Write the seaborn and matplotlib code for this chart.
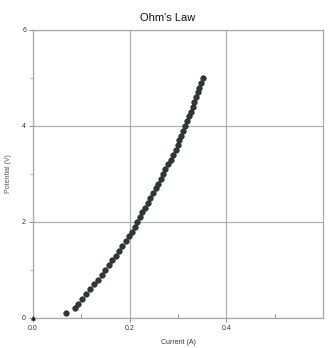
import matplotlib
matplotlib.use("Agg")
import matplotlib.pyplot as plt
from matplotlib.ticker import MultipleLocator
import seaborn as sns
import pandas as pd

potential_v = [0.1, 0.2, 0.3, 0.4, 0.5, 0.6, 0.7, 0.8, 0.9, 1.0,
               1.1, 1.2, 1.3, 1.4, 1.5, 1.6, 1.7, 1.8, 1.9, 2.0,
               2.1, 2.2, 2.3, 2.4, 2.5, 2.6, 2.7, 2.8, 2.9, 3.0,
               3.1, 3.2, 3.3, 3.4, 3.5, 3.6, 3.7, 3.8, 3.9, 4.0,
               4.1, 4.2, 4.3, 4.4, 4.5, 4.6, 4.7, 4.8, 4.9, 5.0]
current_a = [0.068, 0.087, 0.093, 0.101, 0.109, 0.118, 0.126, 0.134, 0.142, 0.149,
             0.157, 0.164, 0.171, 0.178, 0.185, 0.192, 0.198, 0.204, 0.210, 0.215,
             0.221, 0.226, 0.232, 0.237, 0.242, 0.248, 0.254, 0.259, 0.264, 0.269,
             0.274, 0.279, 0.285, 0.290, 0.295, 0.299, 0.303, 0.307, 0.311, 0.315,
             0.319, 0.323, 0.327, 0.330, 0.334, 0.337, 0.341, 0.344, 0.348, 0.351]
origin_current = [0.0]
origin_potential = [0.0]

x_ticks = [0.0, 0.2, 0.4]
x_tick_labels = ["0.0", "0.2", "0.4"]
y_ticks = [0, 2, 4, 6]
y_tick_labels = ["0", "2", "4", "6"]

sns.set_style("white")
plt.rcParams['font.family'] = ['Liberation Sans', 'DejaVu Sans']

df = pd.DataFrame({"Current (A)": current_a, "Potential (V)": potential_v})

fig = plt.figure(figsize=(3.31, 3.48), dpi=100)
ax = fig.add_axes([33/331, 30/348, 290/331, 288/348])

sns.scatterplot(data=df, x="Current (A)", y="Potential (V)", ax=ax,
                color="#2e3834", s=16, edgecolor="#1e2622", linewidth=0.4, zorder=3)
ax.scatter(origin_current, origin_potential, marker="^", s=5, color="#222222", zorder=4, clip_on=False)

ax.set_xlim(0, 0.6)
ax.set_ylim(0, 6)
ax.set_xticks(x_ticks)
ax.set_xticklabels(x_tick_labels)
ax.set_yticks(y_ticks)
ax.set_yticklabels(y_tick_labels)
ax.xaxis.set_minor_locator(MultipleLocator(0.1))
ax.yaxis.set_minor_locator(MultipleLocator(1))

ax.grid(True, which="major", color="#b0b0b0", linewidth=0.9)
for sp in ax.spines.values():
    sp.set_color("#a8a8a8")
    sp.set_linewidth(0.9)

ax.tick_params(axis="both", which="major", labelsize=5, length=3, width=0.6,
               color="#777777", labelcolor="#333333", pad=2,
               bottom=True, left=True)
ax.tick_params(axis="x", which="minor", direction="in", length=3, width=0.6,
               color="#777777", bottom=True)
ax.tick_params(axis="y", which="minor", direction="out", length=2, width=0.6,
               color="#999999", left=True)

ax.set_xlabel("Current (A)", fontsize=5, color="#333333", labelpad=5)
ax.set_ylabel("Potential (V)", fontsize=5, color="#555555", labelpad=7)
fig.text(168/331, 1 - 18/348, "Ohm's Law", fontsize=8, color="#111111",
         ha="center", va="center")

fig.savefig("out.png", dpi=100)
